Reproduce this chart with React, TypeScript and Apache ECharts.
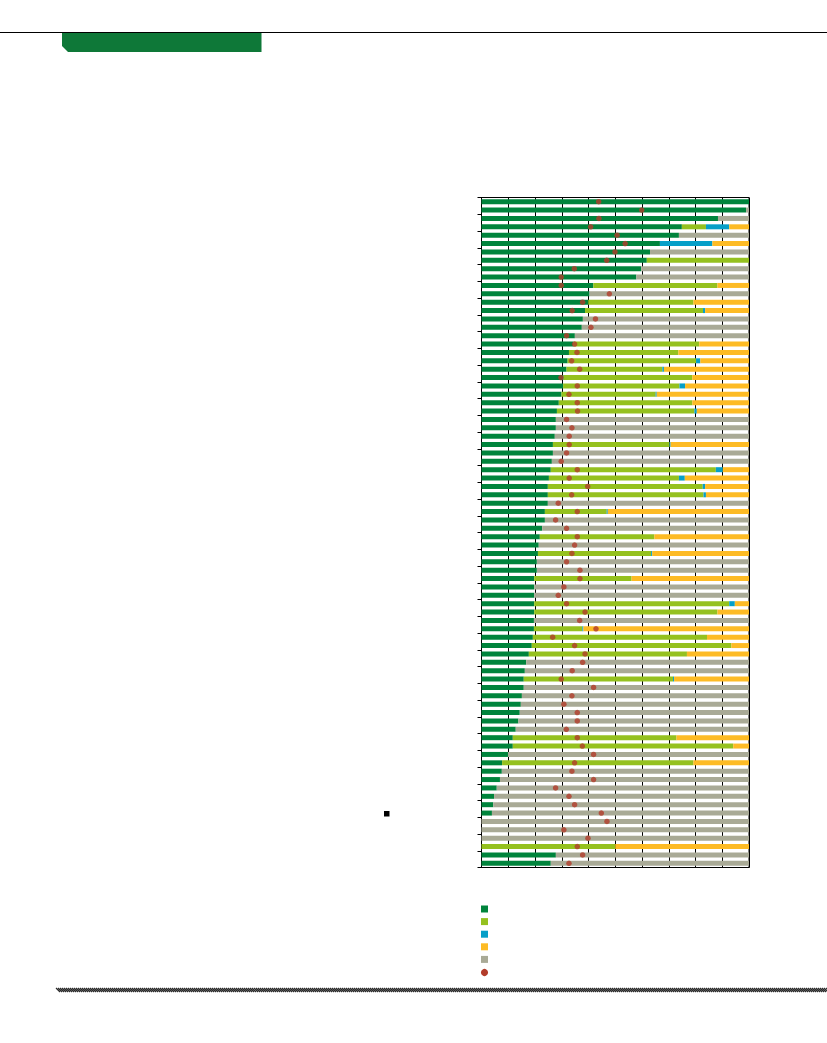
import React, { useEffect, useRef } from "react";
import * as echarts from "echarts";

const categories: string[] = Array.from({ length: 80 }, (_, i) => String(i + 1));

const darkGreen = [
  100, 98.9, 88.4, 74.9, 73.8, 66.7, 63.0, 61.8, 59.7, 57.9,
  41.8, 40.4, 39.9, 38.7, 37.9, 37.5, 34.9, 34.4, 32.7, 32.2,
  31.8, 30.7, 30.5, 29.9, 28.9, 28.2, 27.8, 27.8, 27.4, 26.7,
  26.7, 26.3, 25.9, 25.2, 24.8, 24.8, 24.8, 23.7, 23.7, 22.7,
  21.8, 21.4, 21.1, 20.7, 20.7, 19.7, 19.7, 19.7, 19.7, 19.7,
  19.6, 19.6, 19.2, 18.8, 17.7, 16.7, 16.2, 15.8, 15.8, 15.1,
  14.7, 14.3, 13.8, 12.8, 11.7, 11.7, 9.9, 7.7, 7.6, 6.9,
  5.7, 4.7, 4.4, 3.9, 0, 0, 0, 0, 27.8, 25.9,
];

const lightGreen = [
  0, 0, 0, 9.0, 0, 0, 0, 38.2, 0, 0,
  46.4, 0, 39.3, 44.1, 0, 0, 0, 47.0, 40.9, 48.0,
  35.8, 48.1, 43.5, 35.2, 49.9, 51.4, 0, 0, 0, 43.6,
  0, 0, 61.7, 48.6, 57.9, 58.2, 0, 23.1, 0, 0,
  42.8, 0, 42.3, 0, 0, 36.4, 0, 0, 72.9, 68.5,
  0, 18.1, 65.1, 74.6, 59.1, 0, 0, 55.8, 0, 0,
  0, 0, 0, 0, 61.2, 82.4, 0, 71.5, 0, 0,
  0, 0, 0, 0, 0, 0, 0, 50.0, 0, 0,
];

const blue = [
  0, 0, 0, 8.7, 0, 19.6, 0, 0, 0, 0,
  0, 0, 0, 0.8, 0, 0, 0, 0, 0, 1.6,
  0.6, 0, 2.1, 0.4, 0, 0.9, 0, 0, 0, 0.4,
  0, 0, 2.6, 2.2, 0.9, 0.9, 0, 0.4, 0, 0,
  0, 0, 0.4, 0, 0, 0, 0, 0, 2.1, 0,
  0, 0.4, 0, 0, 0, 0, 0, 0.4, 0, 0,
  0, 0, 0, 0, 0, 0, 0, 0, 0, 0,
  0, 0, 0, 0, 0, 0, 0, 0, 0, 0,
];

const orange = [
  0, 0, 0, 7.4, 0, 13.7, 0, 0, 0, 0,
  11.8, 0, 20.8, 16.4, 0, 0, 0, 18.6, 26.4, 18.2,
  31.8, 21.2, 23.9, 34.5, 21.2, 19.5, 0, 0, 0, 29.3,
  0, 0, 9.8, 24.0, 16.4, 16.1, 0, 52.8, 0, 0,
  35.4, 0, 36.2, 0, 0, 43.9, 0, 0, 5.3, 11.8,
  0, 61.9, 15.7, 6.6, 23.2, 0, 0, 28.0, 0, 0,
  0, 0, 0, 0, 27.1, 5.9, 0, 20.8, 0, 0,
  0, 0, 0, 0, 0, 0, 0, 50.0, 0, 0,
];

const gray = [
  0, 1.1, 11.6, 0, 26.2, 0, 37.0, 0, 40.3, 42.1,
  0, 59.6, 0, 0, 62.1, 62.5, 65.1, 0, 0, 0,
  0, 0, 0, 0, 0, 0, 72.2, 72.2, 72.6, 0,
  73.3, 73.7, 0, 0, 0, 0, 75.2, 0, 76.3, 77.3,
  0, 78.6, 0, 79.3, 79.3, 0, 80.3, 80.3, 0, 0,
  80.4, 0, 0, 0, 0, 83.3, 83.8, 0, 84.2, 84.9,
  85.3, 85.7, 86.2, 87.2, 0, 0, 90.1, 0, 92.4, 93.1,
  94.3, 95.3, 95.6, 96.1, 100, 100, 100, 0, 72.2, 74.1,
];

const dots = [
  43.8, 59.9, 43.9, 40.8, 50.7, 53.7, 49.9, 46.8, 34.7, 29.8,
  29.8, 47.8, 37.8, 33.9, 42.6, 40.9, 31.8, 34.8, 35.7, 33.7,
  36.7, 29.7, 35.8, 32.7, 35.8, 35.9, 31.8, 33.8, 32.8, 32.8,
  31.8, 29.8, 35.8, 32.8, 39.7, 33.7, 28.7, 35.8, 27.7, 31.8,
  35.8, 34.8, 33.8, 31.8, 36.8, 36.8, 30.8, 28.7, 31.8, 38.7,
  36.7, 42.8, 26.6, 34.8, 38.7, 37.8, 33.9, 29.8, 41.9, 33.8,
  30.8, 35.8, 35.8, 31.7, 35.8, 37.7, 41.9, 34.8, 33.8, 41.9,
  27.7, 32.7, 34.8, 44.8, 46.9, 30.8, 39.8, 35.8, 37.8, 32.7,
];

const C_DARK = "#00843c";
const C_LIGHT = "#95c11f";
const C_BLUE = "#069fc8";
const C_ORANGE = "#fdbb25";
const C_GRAY = "#a9aa96";
const C_RED = "#b23c2a";

let hatchRegistered = false;
function registerHatch() {
  if (hatchRegistered) return;
  let d = "";
  for (let x = 0; x < 771; x += 2) {
    d += `M${x} 0L${x + 4} 4`;
  }
  echarts.graphic.registerShape("hatch", echarts.graphic.extendPath(d, {}));
  hatchRegistered = true;
}

export default function App() {
  const ref = useRef<HTMLDivElement>(null);
  useEffect(() => {
    if (!ref.current) return;
    registerHatch();
    const chart = echarts.init(ref.current, undefined, { renderer: "svg" });
    const barBase = {
      type: "bar" as const,
      stack: "total",
      barWidth: 5,
      silent: true,
    };
    const legendColors = [C_DARK, C_LIGHT, C_BLUE, C_ORANGE, C_GRAY];
    const legendItems: any[] = legendColors.map((c, i) => ({
      type: "rect",
      shape: { x: 481, y: 905.5 + i * 12.6, width: 7, height: 7 },
      style: { fill: c },
    }));
    legendItems.push({
      type: "circle",
      shape: { cx: 484.5, cy: 972.5, r: 3.6 },
      style: { fill: C_RED },
    });
    chart.setOption({
      animation: false,
      grid: {
        left: 481.5,
        top: 197.5,
        width: 267.5,
        height: 670,
        show: true,
        borderColor: "#000",
        borderWidth: 1,
        backgroundColor: "transparent",
      },
      xAxis: {
        type: "value",
        min: 0,
        max: 100,
        interval: 10,
        axisLabel: { show: false },
        axisTick: { show: false },
        axisLine: { show: true, lineStyle: { color: "#000", width: 1 } },
        splitLine: { show: true, lineStyle: { color: "#000", width: 1 } },
      },
      yAxis: {
        type: "category",
        data: categories,
        inverse: true,
        boundaryGap: true,
        axisLabel: { show: false },
        axisTick: { show: true, length: 4, lineStyle: { color: "#000", width: 1 } },
        axisLine: { show: true, lineStyle: { color: "#000", width: 1 } },
        splitLine: { show: false },
      },
      series: [
        { ...barBase, name: "a", data: darkGreen, itemStyle: { color: C_DARK } },
        { ...barBase, name: "b", data: lightGreen, itemStyle: { color: C_LIGHT } },
        { ...barBase, name: "c", data: blue, itemStyle: { color: C_BLUE } },
        { ...barBase, name: "d", data: orange, itemStyle: { color: C_ORANGE } },
        { ...barBase, name: "e", data: gray, itemStyle: { color: C_GRAY } },
        {
          type: "scatter",
          name: "f",
          data: dots.map((v, i) => [v, i]),
          symbol: "circle",
          symbolSize: 5.5,
          itemStyle: { color: C_RED },
          z: 5,
          silent: true,
        },
      ],
      graphic: [
        {
          type: "line",
          shape: { x1: 0, y1: 32.5, x2: 827, y2: 32.5 },
          style: { stroke: "#000", lineWidth: 1 },
        },
        {
          type: "polygon",
          shape: {
            points: [
              [62, 33],
              [261.5, 33],
              [261.5, 52],
              [68, 52],
              [62, 46],
            ],
          },
          style: { fill: "#0e7838" },
        },
        {
          type: "rect",
          shape: { x: 384, y: 811, width: 5.5, height: 5.5 },
          style: { fill: "#000" },
        },
        {
          type: "hatch",
          x: 56,
          y: 988,
          style: { stroke: "#2a2a2a", lineWidth: 1.1, fill: "none" },
        },
        ...legendItems,
      ],
    });
    return () => {
      chart.dispose();
    };
  }, []);
  return (
    <div
      ref={ref}
      style={{ position: "absolute", left: 0, top: 0, width: 827, height: 1043 }}
    />
  );
}
